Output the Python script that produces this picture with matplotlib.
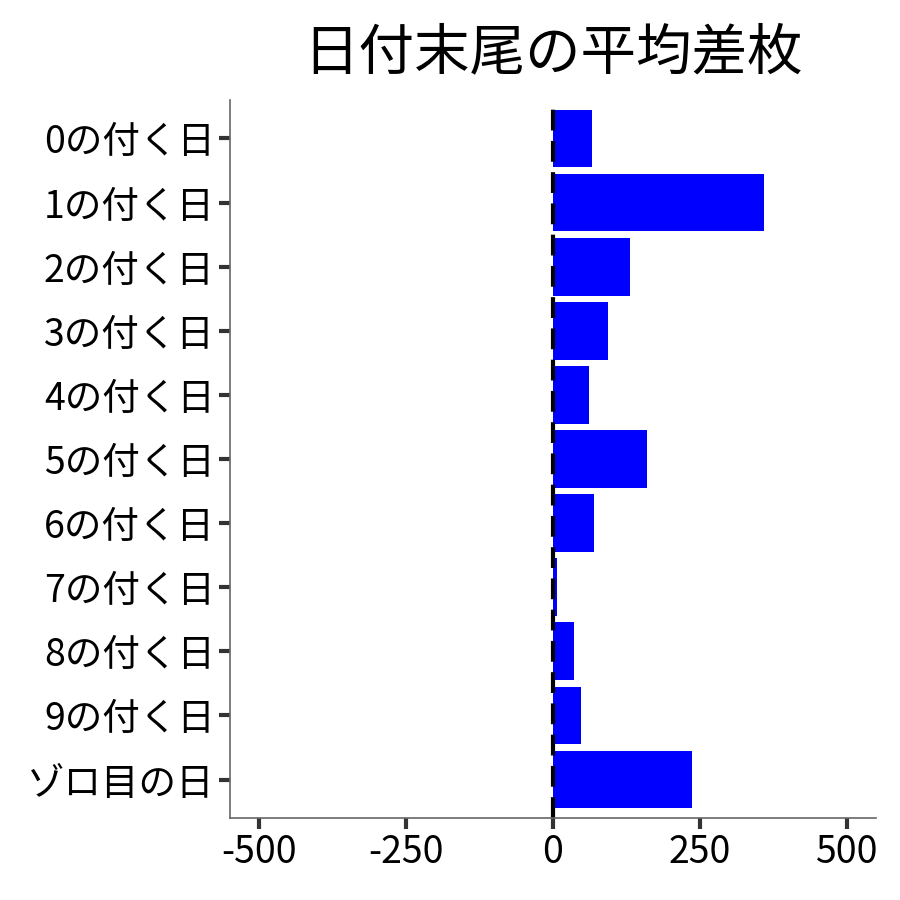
import matplotlib
matplotlib.use('Agg')
import matplotlib.pyplot as plt

plt.rcParams['font.family'] = ['Noto Sans CJK JP', 'DejaVu Sans']

categories = ['0の付く日', '1の付く日', '2の付く日', '3の付く日', '4の付く日',
              '5の付く日', '6の付く日', '7の付く日', '8の付く日', '9の付く日',
              'ゾロ目の日']
values = [66, 359, 131, 94, 61, 160, 70, 7, 36, 48, 236]
xticks = [-500, -250, 0, 250, 500]

fig = plt.figure(figsize=(9, 9), dpi=100)
ax = fig.add_axes([0.2556, 0.0911, 0.7178, 0.7978])

ypos = list(range(len(categories)))
ax.barh(ypos, values, height=0.9, color='#0000FF')
ax.axvline(0, color='black', linestyle=(0, (5, 2.5)), linewidth=3)

ax.set_xlim(-550, 550)
ax.set_ylim(len(categories) - 0.4, -0.6)
ax.set_yticks(ypos)
ax.set_yticklabels(categories)
ax.set_xticks(xticks)
ax.set_xticklabels([str(v) for v in xticks])

for side in ['top', 'right']:
    ax.spines[side].set_visible(False)
for side in ['left', 'bottom']:
    ax.spines[side].set_color('#666666')
    ax.spines[side].set_linewidth(1.2)
ax.tick_params(axis='both', labelsize=27, colors='#333333', width=3, length=8,
               labelcolor='black', pad=3)

ax.set_title('日付末尾の平均差枚', fontsize=40, pad=22)

fig.savefig('out.png', dpi=100)
